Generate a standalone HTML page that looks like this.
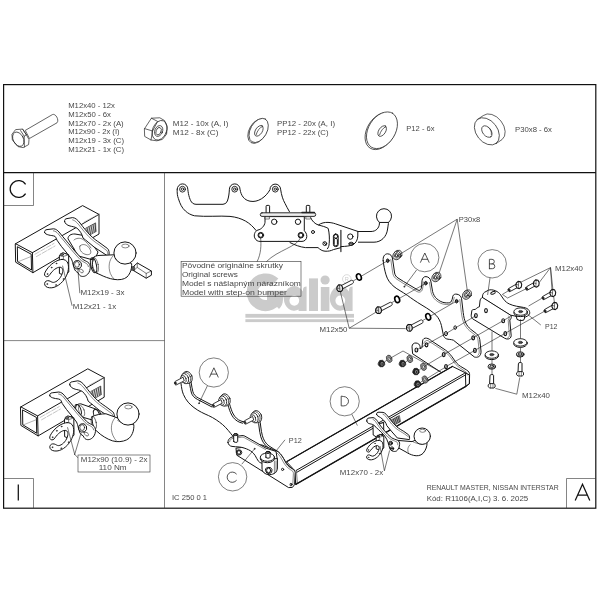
<!DOCTYPE html>
<html><head><meta charset="utf-8"><title>R1106</title>
<style>
html,body{margin:0;padding:0;background:#fff;}
svg{display:block;will-change:transform;opacity:.999}
text{font-family:"Liberation Sans",sans-serif;fill:#484848;}
.l{fill:none;stroke:#151515;stroke-width:1;stroke-linecap:round;stroke-linejoin:round}
.f{fill:#fff;stroke:#151515;stroke-width:1;stroke-linecap:round;stroke-linejoin:round}
.k{fill:#222;stroke:#222;stroke-width:.5}
.b{stroke-width:1.1}
.h{fill:none;stroke:#1c1c1c;stroke-width:.6}
.s{font-size:7px}
.hw *{stroke-width:.7;stroke:#222}
</style></head><body>
<svg width="600" height="600" viewBox="0 0 600 600">
<rect width="600" height="600" fill="#fff"/>
<!-- 00_frame.svg -->
<g style="fill:none;stroke:#111">
<rect x="3.6" y="84.6" width="592.2" height="423.6" style="stroke-width:1.2"/>
<line x1="3.6" y1="172.6" x2="595.8" y2="172.6" style="stroke-width:1.1"/>
<line x1="164.5" y1="172.6" x2="164.5" y2="508" style="stroke-width:.6;stroke:#333"/>
<line x1="3.6" y1="340.6" x2="164.5" y2="340.6" style="stroke-width:.6;stroke:#333"/>
<path d="M33.5 172.6V205.5H3.6" style="stroke-width:.6;stroke:#333"/>
<path d="M3.6 478.5H33.5V508" style="stroke-width:.6;stroke:#333"/>
<path d="M595.8 478.5H566.5V508" style="stroke-width:.6;stroke:#333"/>
</g>

<!-- 05_watermark.svg -->
<g style="fill:#cbcbcb;stroke:none">
<path d="M274.6 282.6 A13.3 13.3 0 1 0 278.2 296.2 L267 296.2" style="fill:none;stroke:#cbcbcb;stroke-width:11"/>
<path d="M267 291 H283 V299 C283 304 281 307 279 309 L272 301.4 H267Z"/>
<path fill-rule="evenodd" d="M283.8 299 A10.5 12.4 0 0 1 303 291.6 V289.6 Q303 286.6 306.6 286.6 V311 H298.6 V309.6 A10.5 12.4 0 0 1 283.8 299Z M289.4 300.6 A4.9 5.1 0 1 0 299.2 300.6 A4.9 5.1 0 1 0 289.4 300.6Z"/>
<rect x="309" y="278.4" width="9" height="32.6"/>
<rect x="320.8" y="287" width="8.6" height="24"/>
<circle cx="325.1" cy="280" r="4.6"/>
<path fill-rule="evenodd" d="M329.8 299 A10.5 12.4 0 0 1 349 291.6 V289.6 Q349 286.6 352.6 286.6 V311 H344.6 V309.6 A10.5 12.4 0 0 1 329.8 299Z M335.4 300.6 A4.9 5.1 0 1 0 345.2 300.6 A4.9 5.1 0 1 0 335.4 300.6Z"/>
<rect x="245.4" y="313.9" width="108.6" height="3.8"/>
<rect x="245.4" y="319.2" width="108.6" height="2.9"/>
<circle cx="346.8" cy="279" r="4.3" style="fill:none;stroke:#cbcbcb;stroke-width:.7"/>
<text x="344.8" y="281.4" font-size="5.6" style="fill:#cbcbcb">R</text>
</g>

<!-- 10_hardware.svg -->
<g class="l hw">
<!-- bolt -->
<path class="f" d="M25.6 130.2 L52.4 114.6 C55.5 113 59.5 120 57 122.8 L29.8 138.3Z"/>
<path class="f" d="M12.2 134 L15.6 129.6 L22.6 129.1 L26.4 134.8 L29 139.6 L28.6 144.6 L23.2 147.6 L18 146.6 L12.6 140.2Z"/>
<path d="M22.6 129.1 L26.4 134.8 M26.4 134.8 L24.2 136.2 L24.4 147 M24.2 136.2 L20.6 130.6"/>
<ellipse cx="18.3" cy="139.2" rx="5.1" ry="7.6" transform="rotate(-27 18.3 139.2)"/>
<!-- nut -->
<path class="f" d="M144.6 128.6 L151.4 118.2 L159.8 117.8 L164.6 120.6 L167.2 127 L166.6 134.2 L162.4 139.4 L156.8 140.8 L151 140 L145 136.6Z"/>
<path d="M144.6 128.6 L152.6 131 L151 140 M152.6 131 L157.6 121.4 L151.4 118.2"/>
<ellipse cx="159.6" cy="130.3" rx="7" ry="10.2" transform="rotate(22 159.6 130.3)"/>
<ellipse cx="158.7" cy="131" rx="3.9" ry="5.6" transform="rotate(22 158.7 131)"/>
<ellipse cx="158.6" cy="131.2" rx="2.5" ry="3.9" transform="rotate(22 158.6 131.2)"/>
<!-- PP12 washer -->
<ellipse class="f" cx="257.7" cy="131" rx="13.4" ry="8.4" transform="rotate(-60 257.7 131)"/>
<ellipse class="f" cx="258.7" cy="130.4" rx="13.2" ry="8.2" transform="rotate(-60 258.7 130.4)"/>
<ellipse cx="258.9" cy="130.8" rx="6" ry="3.4" transform="rotate(-57 258.9 130.8)"/>
<path d="M256.2 134.6 C257 131 260 127.2 262.4 126.4"/>
<!-- P12 washer -->
<ellipse class="f" cx="380.8" cy="131" rx="20.2" ry="13.6" transform="rotate(-58 380.8 131)"/>
<ellipse class="f" cx="382" cy="130.2" rx="20" ry="13.4" transform="rotate(-58 382 130.2)"/>
<ellipse cx="382.2" cy="131" rx="6" ry="3.4" transform="rotate(-57 382.2 131)"/>
<path d="M379.6 134.8 C380.4 131.4 383.2 127.6 385.6 126.8"/>
<!-- P30x8 -->
<path class="f" d="M477.5 119.4 L483.2 115.6 A15.2 10.6 52 0 1 502 139.6 L496.3 143.4Z" style="stroke-width:.7"/>
<ellipse class="f" cx="486.9" cy="131.4" rx="15.2" ry="10.6" transform="rotate(52 486.9 131.4)" style="stroke-width:.7"/>
<ellipse cx="486.9" cy="131.6" rx="6.6" ry="4.2" transform="rotate(52 486.9 131.6)" style="stroke-width:.7"/>
<path d="M488.4 127.4 C490.4 129 491.8 131.8 491.4 134.4" style="stroke-width:.6"/>
</g>

<!-- 20_sideview.svg -->
<g class="l">
<!-- upper bracket outline -->
<path d="M177.2 189.2 A5.3 5.3 0 0 1 187.8 189.2 C188.4 195 190 201 192.4 203 Q193.8 204.3 196 204.3 H223 Q226 204.3 227.4 201 C228.8 197 229.2 193 229.4 189.2 A5.3 5.3 0 0 1 240 189.2 C241 195.5 244 200 250 201.2 C258 202.8 266 197 270 189.6 A5.3 5.3 0 0 1 280.6 189.2 C281.4 195 283 200 285 203.4 Q287 207.5 289.4 211.6"/>
<path d="M177.2 189.2 C177 193 177.4 196 178.4 198.6 C180 204 182 208 185.4 211 C188 213.4 191 215 194.6 215.8 C206 217 220 215.6 230 216.4 C236 217 241 218.6 245.4 221 C250 223.6 253.4 227 256 230.4"/>
<g style="stroke-width:.9">
<circle cx="182.5" cy="189.2" r="2.9"/><circle cx="182.5" cy="189.2" r="1.2"/>
<circle cx="234.7" cy="189.2" r="2.9"/><circle cx="234.7" cy="189.2" r="1.2"/>
<circle cx="275.3" cy="189.2" r="2.9"/><circle cx="275.3" cy="189.2" r="1.2"/>
</g>
<!-- studs -->
<path class="f" d="M266.1 213 V206.2 Q266.1 205.4 266.9 205.4 H268.8 Q269.6 205.4 269.6 206.2 V213Z"/>
<path class="f" d="M306.3 213 V206.2 Q306.3 205.4 307.1 205.4 H309 Q309.8 205.4 309.8 206.2 V213Z"/>
<!-- mounting plate body -->
<path class="f" d="M265 217 V222.4 C264.6 226 261 229.6 258 230 C254.4 231 253.6 236 254.8 238 C256 240.6 258 241.4 260 241.4 H302 C304.6 241.4 306.8 239.4 306.8 236.4 C306.8 233.6 305.4 232 304.3 230.8 V217Z"/>
<circle cx="274.2" cy="221.8" r="2.7"/><circle cx="298" cy="221.8" r="2.7"/>
<circle cx="260.8" cy="235.2" r="2.8"/><circle cx="260.8" cy="235.2" r="2.1"/>
<circle cx="300.9" cy="235.2" r="2.8"/><circle cx="300.9" cy="235.2" r="2.1"/>
<!-- right housing -->
<path d="M310.6 217.6 C312 221 315 224 318.4 225 C322 226 325.6 226.8 328.2 228.4 C329.4 233 329.6 239 329.2 243.4 C329 246 328.4 247.6 327.4 248.8"/>
<path d="M318.6 224.8 C321 223 325 222.2 328 222.4 C331 222.6 333 223 335.4 223.8 L358.4 231.6"/>
<path d="M290 242.6 C295 245 300 247 305.4 247.6 H318 C320 249.4 322 251 325 251.2 C328.4 251.4 331 250.8 333.4 249.6 L340.4 247.8"/>
<circle cx="313" cy="232" r="1.5"/><circle cx="324.8" cy="243.6" r="1.9"/><path d="M323.6 242.2 L326 245"/>
<rect x="333.4" y="234" width="4.8" height="12.6" rx="2.2"/><rect x="334.2" y="238.4" width="3.2" height="7.4" rx="1.4"/>
<circle cx="335.8" cy="236.4" r="1.9"/>
<line x1="340.9" y1="230.4" x2="340.9" y2="251.6" style="stroke-width:1.1"/>
<!-- bar -->
<rect x="260.3" y="212.8" width="55.4" height="3.6" rx="1.7" style="fill:#eee;stroke-width:.9"/>
<path d="M302 212.5 H314.4" style="stroke-width:1.5;stroke:#222"/>
<path class="f" d="M265.4 216.8 H269.4 V219 H265.4Z M306.2 216.8 H310.6 V219 H306.2Z" style="stroke-width:.55"/>
<!-- towbar neck & ball -->
<path d="M340.9 246.6 C346 246.4 350 246 353 244.6 C356 243 357.6 240 357.8 236 V231.6"/>
<circle cx="350.3" cy="236.6" r="2.7"/><ellipse cx="351.2" cy="243.8" rx="2.3" ry="1.6"/><path d="M349 243.8 H353.4"/>
<path d="M358.4 231.5 H371 C376 231.5 379 228 379.4 224 V222.2 M358.4 242.2 H374 C381 242.2 386.6 237 387.6 229 C388 226 388.4 224 388.6 222.2"/>
<path class="f" d="M379.2 222.2 A7.6 7.6 0 1 1 388.8 222.2 Z"/>
<!-- leader curves -->
<path class="h" d="M260.6 238 C261.4 245 261 254 257.2 261.4 M300.4 238 C297 247 278 250 266.6 261.4"/>
</g>

<!-- 30_beam.svg -->
<g class="l">
<!-- right end plate (behind beam) -->
<path class="f" d="M412.6 353.4 L412 346.8 C412 344 414 342.8 416 343 C418.4 343.2 419.8 344.6 420 346.4 L420.4 349 L422 347.4 L422.6 341 C422.8 338.8 424.6 337.8 426.6 338.2 C428.6 338.6 429.8 339.4 431.4 340.8 L445.4 350 C449 352.6 451.6 356 453.6 359 C455.6 362 457.6 364.6 460.6 366.4 L466.6 370 C468.6 371.2 469.6 372.6 469.6 374.6 L469.4 383.6 L465.4 386.6 L440 371.6 Z"/>
<path d="M423.8 343.4 C424.4 341.2 426.2 340 428 340.6 L444.6 351.4 C448 354 450.4 357 452.4 360 C454.6 363.2 456.6 365.8 459.8 367.8 L465.2 371.4 C466.6 372.4 467.2 373.4 467.2 375" style="stroke-width:.5"/>
<g style="stroke-width:1.15"><ellipse cx="416.4" cy="350" rx="1.4" ry="2"/><ellipse cx="426.5" cy="344.8" rx="1.4" ry="2"/>
<ellipse cx="443.7" cy="354.6" rx="1.4" ry="2"/><ellipse cx="446" cy="366.6" rx="1.4" ry="2"/></g>
<!-- beam -->
<path class="f" d="M286.9 461.6 L452.4 366.4 L465.4 372.8 L465.8 386.4 L295.8 484.4 L294.6 470.8 Z"/>
<path d="M286.9 461.6 L452.4 366.4" style="stroke-width:1.2"/>
<path d="M296.2 470.4 L464.4 373.4 M297 472.2 L464.6 375.4"/>
<path d="M294.6 470.8 L295.8 484.4 M296.4 470.6 L297.4 483.6" style="stroke-width:.55"/>
<path d="M295.8 484.4 L465.8 386.4" style="stroke-width:1.25"/>
<path d="M465.4 372.8 L469.4 375 L469.4 383.8 L465.8 386.4"/>
</g>

<!-- 32_leftend.svg -->
<defs>
<g id="lugstud">
<!-- origin = lug centre -->
<ellipse class="f" cx="1.6" cy="-.6" rx="4.6" ry="6.2" transform="rotate(-20 1.6 -.6)" style="stroke-width:.8"/>
<ellipse class="f" cx=".4" cy="0" rx="4.2" ry="5.8" transform="rotate(-20 .4 0)" style="stroke-width:.6"/>
<ellipse class="f" cx="-1" cy=".6" rx="3.6" ry="5.2" transform="rotate(-20 -1 .6)" style="stroke-width:.8"/>
<ellipse class="f" cx="-2.4" cy="1.2" rx="2.6" ry="3.8" transform="rotate(-20 -2.4 1.2)" style="stroke-width:.7"/>
<path class="f" d="M-3.2 -.6 L-10.6 3.4 C-12.4 4.4 -11.2 7.6 -9.4 6.8 L-2 3Z" style="stroke-width:.85"/>
<ellipse class="k" cx="-10.4" cy="5.2" rx=".8" ry="1.4" transform="rotate(-25 -10.4 5.2)"/>
</g>
</defs>
<g class="l">
<!-- lower-left bracket A plate -->
<path class="f" d="M181 383.4 C181.6 388 182 391 183.4 394.4 C186 400.6 190 404.6 194 407.6 C199 411.4 204 413.6 208.6 415.6 C214 418 219 421.6 222.6 424.6 C226.6 428 230 432.6 233 436.6 L262.4 436 L260 425 C259.6 422 259.4 419.6 259 417.6 L254 410 L246 420.6 L243.2 421.8 C239.4 421.2 236.4 419 234.6 416.6 C232 413 231 409.6 230 406.4 C229.2 403.6 228.4 401.4 227.4 399.4 L222 393.4 L214 404.6 L213 405.8 L198.4 398.2 C195.4 396.4 193.6 394.6 193 391.6 C191.8 386.6 191.2 381.6 190 376.4 L183 372 Z" style="stroke:none"/>
<path d="M181 383.4 C181.6 388 182 391 183.4 394.4 C186 400.6 190 404.6 194 407.6 C199 411.4 204 413.6 208.6 415.6 C214 418 219 421.6 222.6 424.6 C226.6 428 230 432.6 233.4 436.8"/>
<path d="M190 376 C191.2 381.6 191.6 386.6 192.8 391.4 C193.6 394.6 195.4 396.4 198.4 398 L213.4 405.8 M188.4 377 C189.6 382.6 190 387 191.2 392 C192 395.4 194 397.6 197.4 399.4 L212 407"/>
<path d="M227.6 399.6 C229 402 229.6 404 230.4 406.8 C231.4 410 232.4 413.2 234.8 416.4 C236.8 419 239.6 421 243.6 421.8 M226 400.6 C227.4 403 228 405 228.8 407.8 C229.8 411 231 414.4 233.4 417.6 C235.6 420.4 238.6 422.4 242.6 423.2"/>
<path d="M259.4 417.8 C260.2 421 260.4 424 260.8 427 C261.2 430 261.6 433 262.4 435.8 C263.6 440 265.6 443.4 269 446 C272 448.2 275.4 449.6 278 451.6 C281 454 283 457.4 285 461 C287 464.6 290 467.6 294.6 470.4 M257.8 418.8 C258.6 422 258.8 425 259.2 428 C259.6 431 260 434 260.8 436.8 C262 441 264.4 444.8 267.8 447.4"/>
<circle class="k" cx="199" cy="403.3" r=".55"/>
<use href="#lugstud" x="185.9" y="378"/>
<use href="#lugstud" x="223.9" y="400.4"/>
<use href="#lugstud" x="255.4" y="417.2"/>
<!-- beam left end plate -->
<path class="f" d="M236 448.6 L236.8 455.2 L288.6 487.6 L292.4 487.4 L294.6 484.6 L295.2 472.6 C295 470.4 293.6 469.6 292 468.6 C288.4 466.6 286.6 464.4 285 461.2 C283 457.4 281 454 278 451.6 L262 445 Z"/>
<path d="M276.6 452.6 C279.4 454.8 281.2 458 283.2 461.8 C285 465 287 467.6 290.6 469.8 C292.4 470.8 293.4 471.4 293.4 473.4 L292.8 484.6" style="stroke-width:.5"/>
<circle cx="282.6" cy="469.4" r="1.1"/><ellipse cx="291" cy="484.6" rx=".9" ry="1.4"/>
<!-- bracket C plate -->
<path class="f" d="M228 442.6 C227.6 439.6 230 437.4 233 436.8 L242 435.6 C243.6 435.4 244.6 436 246 436.8 L266 448.2 L276 451.4 L277.4 460 L264.6 463.8 C261.6 463.4 259.6 462.6 258.6 461.4 C257 459.6 256.4 457.4 255.2 455.6 C253.6 453.2 251.4 451 248.6 449.8 C245.6 448.4 242.6 447.4 239.4 447 C236.6 446.8 234.4 446.8 232 446.4 C229.6 446 228.4 444.6 228 442.6Z"/>
<path d="M229.6 441.6 C229.6 440 231 438.8 233 438.4 L241.6 437.2 C243.2 437 244.4 437.6 245.6 438.4 L265.6 449.6" style="stroke-width:.5"/>
<circle class="k" cx="254.6" cy="448.8" r=".55"/>
<!-- post -->
<path class="f" d="M233.7 441.4 V434.6 A2 1 0 0 1 237.7 434.6 V441.4 A2 1 0 0 1 233.7 441.4Z"/>
<ellipse cx="235.7" cy="434.6" rx="2" ry="1" style="fill:#666"/>
<!-- bushing under washer -->
<path class="f" d="M262 460 V468 C262 472 265 474.6 269.6 474.6 C274 474.6 277.4 472 277.4 468 V459Z"/>
<path d="M274.4 461 V473 M276 461 V472" style="stroke-width:.5"/>
<!-- washer P12 -->
<ellipse class="f" cx="267.4" cy="458.6" rx="7.1" ry="4.1"/>
<ellipse class="f" cx="267.4" cy="457.2" rx="7.1" ry="4.1"/>
<path class="f" d="M265.9 457.2 V452.4 A2.1 1 0 0 1 270.1 452.4 V457.2 A2.1 1 0 0 1 265.9 457.2Z"/>
<ellipse cx="268" cy="452.4" rx="2.1" ry="1" style="fill:#777"/>
<!-- bolt heads -->
<path class="f" d="M266 468.4 L267.6 467.4 L270.6 467.6 L272 469.6 L271.6 472.4 L269.4 473.6 L266.8 473 L265.6 470.8Z"/>
<ellipse cx="268.6" cy="470.4" rx="2" ry="2.4"/>
<path class="f" d="M236.8 450.6 L238.6 449.8 L241 450.4 L241.8 452.6 L240.8 454.6 L238.4 455 L236.6 453.4Z"/>
<ellipse cx="239" cy="452.4" rx="1.6" ry="1.9"/>
</g>

<!-- 40_coupling.svg -->
<g class="l">
<!-- ribbed block -->
<path d="M390.6 420.4 L399.4 415.4 L400.6 421.6 L393 425.8Z" style="fill:#aaa;stroke-width:.5"/>
<path d="M391.6 420 L393.4 425 M393.2 419 L395 424.2 M394.8 418.2 L396.6 423.4 M396.4 417.2 L398.2 422.6 M398 416.4 L399.6 421.8" style="stroke:#111;stroke-width:.7"/>
<!-- mount plate on beam -->
<path class="f" d="M373 425.2 L373.2 435 L376.4 437 L383.8 433 L383.6 423Z"/>
<!-- arm 2 (rear) -->
<path class="f" d="M376.6 414.6 C376.2 412.8 377.4 412.2 379 412.2 L383 412.4 C385.4 412.8 387.2 415.4 388.8 417.6 C391 420.6 393.4 423.6 396.4 426.4 C399 428.8 401.6 430 403.8 431.4 L408.6 434.8 C409.6 436 409.8 438 409.4 439.6 L397.4 438 C394 434 390 430 386.8 425.6 C386 422.4 384 420.2 380.6 417.6 C378.6 416.4 377 415.8 376.6 414.6Z"/>
<path d="M383 414.2 C385 415 386.6 417.4 388 419.4 C390.4 422.8 393 425.8 396 428.4 C399 430.8 402 432.2 404.6 434 L408.4 436.8" style="stroke-width:.5"/>
<!-- neck -->
<path class="f" d="M397.6 440.4 L412 441.6 C413.6 441 414.6 440.6 415.6 440 L427 442.6 C427.2 446 426 450 423 453.4 C420.6 455.8 417 456.2 413.6 455.4 C410.6 454.6 408 453.4 406 452 L399.4 448.4Z"/>
<path d="M410.2 444.6 C407.8 446.6 407 450 408.6 453.4" style="stroke-width:.5"/>
<path d="M413 441.8 C415 443 419 444 423 444.2" style="stroke-width:.5"/>
<!-- ball -->
<circle class="f" cx="422.2" cy="436.2" r="8.2"/>
<ellipse cx="422.6" cy="430.8" rx="3" ry="1.5" style="stroke-width:.5"/>
<!-- arm 1 (front) -->
<path class="f" d="M366.8 421 C366.4 419 367.6 418.2 369 418 L373 417.6 C375.2 418 376.6 420 377.6 421.4 C379.6 424.4 381.6 427.6 384 430.2 C386.4 433 388.8 435.6 391.4 437.6 C393.4 439 395.6 439.4 397.4 440.2 C399.2 441.2 399.8 442.6 399.6 444.4 C399.4 446.6 398.6 448.8 397.4 450.2 C396.4 451.4 395 451.6 393.6 451.4 C391.6 451 390.4 450 389.8 448.6 C389 446.6 388.8 444.6 388 442.4 C387.2 440.2 386.4 438.2 385 436.4 C383 433.6 380.6 431.6 378.6 429.8 C376.8 428 375.4 426.4 373.6 425 C372 424 370.4 424 369.2 423.6 C367.8 423.2 367 422.4 366.8 421Z"/>
<path d="M373 419.4 C374.6 420 375.6 421.6 376.4 422.8 C378.4 425.8 380.4 428.8 382.8 431.6 C385.2 434.4 387.6 437 390.4 439 C392.4 440.4 394.4 440.8 396.2 441.6 C397.6 442.4 398 443.4 397.8 444.8" style="stroke-width:.5"/>
<circle cx="390.6" cy="443.2" r="1.9"/><circle cx="390.6" cy="443.2" r="1"/>
<circle cx="392" cy="448.6" r="1.7"/><path d="M390.6 448.6 H393.4"/>
<!-- socket bracket -->
<path class="f" d="M376.4 437.4 L379.4 434.4 L383.8 436 L383.8 448 L381 450.6 L376.6 449Z"/>
<path d="M379.6 437.2 L379.8 450 M376.4 437.4 L379.6 437.2 L383.8 436" style="stroke-width:.5"/>
<ellipse cx="378.2" cy="436.2" rx="1.3" ry="1" style="fill:#555"/>
<path class="f" d="M378.4 440.4 C374.6 440.6 370.4 443.6 367.8 447.6 C366.4 449.8 366.2 451 367.4 451.8 C368.6 452.6 369.8 451.8 370.6 450.4 C372.4 447.6 375 445.6 377.4 445.6 C379.4 445.8 379.6 448 378.6 450.6 C377.4 453.6 374.8 456 372.6 456.2 C371.4 456.2 370.8 455.4 369.6 455 C368.2 454.6 366.8 455.4 366.6 456.8 C366.4 458.4 367.8 459.6 370 459.8 C374 460.2 378.6 457 381.2 452.4 C383 449.2 383.6 445.4 382.6 442.8 C381.8 441 380.2 440.4 378.4 440.4Z"/>
<circle class="k" cx="368.4" cy="450" r=".4"/><circle class="k" cx="368.6" cy="457.4" r=".4"/><circle class="k" cx="375" cy="443.4" r=".4"/><circle class="k" cx="379.4" cy="453.6" r=".4"/>
</g>

<!-- 50_bracketA.svg -->
<defs>
<g id="spacer">
<ellipse class="f" cx="1.4" cy="-.9" rx="3.7" ry="4.4" transform="rotate(20 1.4 -.9)" style="stroke-width:.7"/>
<ellipse class="f" cx="0" cy="0" rx="3.7" ry="4.4" transform="rotate(20)" style="stroke-width:.8"/>
<ellipse cx="0" cy="0" rx="2.3" ry="2.9" transform="rotate(20)" style="stroke-width:.6"/>
<ellipse cx="-.2" cy=".1" rx="1.2" ry="1.7" transform="rotate(20)" style="stroke-width:.8"/>
</g>
<g id="wsh"><ellipse class="f" cx="0" cy="0" rx="2.3" ry="3.3" transform="rotate(-20)" style="stroke-width:1.6;stroke:#000"/></g>
<g id="wsh2"><ellipse cx="0" cy="0" rx="2.7" ry="3.8" transform="rotate(-20)" style="stroke-width:.6;stroke:#222;fill:#8c8c8c"/><ellipse cx="0" cy="0" rx="1" ry="1.6" transform="rotate(-20)" style="stroke-width:.5;stroke:#222;fill:#fff"/></g>
</defs>
<g class="l">
<!-- bracket A upper: main plate -->
<path class="f" d="M383.2 260.8 C382.6 256.6 384.6 254 387.4 253.8 C390.4 253.8 392.2 256 392.6 259 L394.6 273 C395.2 275.6 396.2 276.8 398 278 L403.4 281.4 L417.8 290 C419.6 290.8 420.6 290.4 421.2 288.6 C421.8 286.4 421.8 283.6 422 280.8 C422.4 278 424 276.4 426 276.6 C428.6 276.8 430.4 278.6 430.8 281 L432.6 291.6 C433.4 294.6 434.8 297 436.8 298.8 C439.4 301 442 302.4 445 302.8 C447.4 303 449.6 303 450.6 302.2 C452 300.8 452.4 298.6 452.8 296.2 C453.2 294.6 455 293.8 457 294.2 C459.6 294.6 461.2 296.4 461.6 298.8 L463.2 312.6 C463.8 317 464.4 320 465.8 323 C467 325.6 468.8 327.6 470.6 329.2 L476.6 333.8 C478.6 335.6 479.4 337.4 479.8 339.6 L481 351 C481.2 353.6 480.4 355.6 478.8 356.6 C477.4 357.4 475.8 357.4 474.4 357 L453.4 340.2 C451 339.2 448.4 339.6 446.4 338.8 C444.6 338 443.8 336.8 443.4 335.2 L441.4 325.4 C440.4 321.4 438.6 318 436.2 315.4 C433 312 428 308.8 422 305.2 C416 301.6 411 298 407.4 295.4 C402 291.6 397.6 289.6 394 286.6 C390 283.2 387.4 279.6 386 274.8 C384.6 270 383.6 265 383.2 260.8Z"/>
<path d="M390.8 259.6 L392.8 273.4 C393.4 276.2 394.6 277.8 396.8 279.2 L402.4 282.8 L417 291.6 C419.4 292.8 421.6 292 422.4 289.6 C423 287.4 423.2 284.6 423.4 282" style="stroke-width:.5"/>
<path d="M429.4 282.4 L431 292.2 C431.8 295.4 433.4 298 435.6 300 C438.4 302.4 441.4 304 444.8 304.4 C447.6 304.6 450.2 304.4 451.6 303.4 C453.2 302 453.8 299.6 454.2 297.4" style="stroke-width:.5"/>
<path d="M459.8 299.6 L461.4 312.8 C462 317.4 462.8 320.8 464.2 323.8 C465.6 326.6 467.4 328.8 469.4 330.6 L475.4 335.2 C477 336.6 477.8 338 478 340 L479.2 351 C479.4 353 479 354.6 477.8 355.4" style="stroke-width:.5"/>
<ellipse cx="387.7" cy="260.7" rx="1.3" ry="1.8" style="fill:#555"/>
<ellipse cx="425.8" cy="283.2" rx="1.3" ry="1.8" style="fill:#555"/>
<ellipse cx="456.6" cy="301.2" rx="1.3" ry="1.8" style="fill:#555"/>
<ellipse cx="473.2" cy="337.8" rx="1.4" ry="2" style="stroke-width:1.15"/><ellipse cx="474.9" cy="350.4" rx="1.4" ry="2" style="stroke-width:1.15"/>
<ellipse cx="446" cy="333.6" rx="1.5" ry="2.1" style="stroke-width:1"/><ellipse cx="455.2" cy="327.6" rx="1.3" ry="1.8"/>
<circle class="k" cx="404.3" cy="286.7" r=".55"/>
<use href="#spacer" x="396.8" y="255.4"/>
<use href="#spacer" x="435.8" y="277.4"/>
<use href="#spacer" x="466.4" y="295"/>
</g>

<!-- 52_bracketB.svg -->
<defs>
<g id="flatw">
<ellipse class="f" cx="0" cy="1.3" rx="6.7" ry="3.7"/>
<ellipse class="f" cx="0" cy="0" rx="6.7" ry="3.7" style="stroke-width:.9"/>
<ellipse cx="0" cy="0" rx="2.1" ry="1.2" style="fill:#444;stroke-width:.5"/>
</g>
<g id="lockw">
<ellipse class="f" cx="0" cy=".8" rx="3.7" ry="2.2"/>
<ellipse class="f" cx="0" cy="0" rx="3.7" ry="2.2" style="stroke-width:.9"/>
<ellipse cx="0" cy="0" rx="1.9" ry="1.1"/>
</g>
<g id="vbolt">
<!-- origin = top of shaft -->
<path class="f" d="M-1.8 .4 A1.8 .9 0 0 1 1.8 .4 V9.4 H-1.8Z"/>
<path class="f" d="M-3.3 9.6 L-2 8.6 H2 L3.3 9.6 V12 L2 13 H-2 L-3.3 12Z" style="stroke-width:.9"/>
<path d="M-1.2 8.6 V13 M1.2 8.6 V13" style="stroke-width:.5"/>
</g>
<g id="dbolt">
<!-- diagonal bolt: origin = head centre; shaft goes to lower-left -->
<path class="f" d="M-1.4 -1.6 L-10.6 3.6 C-12 4.6 -10.8 7.2 -9.2 6.6 L.2 1.6Z"/>
<path class="f" d="M-2 -2.6 L.4 -3.4 L2.4 -2.2 L3 .6 L2 3 L-.4 3.6 L-2.2 2.2 L-2.8 -.2Z" style="stroke-width:.95"/>
<path d="M-.6 -2.9 L-1 3.2 M.4 -3.4 L-.1 3.5" style="stroke-width:.5"/>
</g>
</defs>
<g class="l">
<!-- top plate -->
<path class="f" d="M482.4 297.4 C482.4 295 483 293.4 484.4 292.4 L488.4 290.2 C490.4 289.4 493 289.8 495.6 290.8 C497.8 291.8 499.2 293 500.2 294.2 L503.6 299.2 C505.4 301.6 507.2 303 509.4 304 C511.6 305 514 305.8 516.4 306.2 L523.4 307.4 C526 307.8 528 308.8 529 310.4 C530 312 530 313.6 529 314.8 C527.6 316.4 524.6 317.6 521 318 C518.4 318 516.6 317 515 316 L510.6 315.2 Z"/>
<!-- front plate -->
<path class="f" d="M482.4 297.4 L510.6 315.2 C511.6 316.2 511.4 317.2 511 318.4 L509.8 320 L511.2 335.8 C511 337.6 509.8 338.8 508.2 339 C506.8 339.2 505.6 338.8 504.6 338.2 L472.6 318.8 C471.6 318 471.2 316.8 471.2 315.2 L471.8 311 C472 309.8 472.8 309.4 474 309.6 L475.6 309.2 C476.6 308.4 477.6 307.2 479.4 306.8 L480 301 C480.2 299.2 481.2 298 482.4 297.4Z"/>
<path d="M508.6 316 C509.4 317 509.4 318 508.8 319 L508.2 320.4 L509.4 335.4 C509.4 336.6 508.8 337.4 507.8 337.8" style="stroke-width:.5"/>
<ellipse cx="493" cy="292.8" rx="2.4" ry="1.2" transform="rotate(-20 493 292.8)"/>
<ellipse cx="475.9" cy="315.6" rx="1.4" ry="2" style="stroke-width:1.1"/><ellipse cx="486" cy="310.6" rx="1.4" ry="2" style="stroke-width:1.1"/>
<ellipse cx="503.2" cy="320.8" rx="1.4" ry="2" style="stroke-width:1.1"/><ellipse cx="505.3" cy="333.6" rx="1.4" ry="2" style="stroke-width:1.1"/>
<!-- nut under right lug -->
<path class="f" d="M516.4 316.4 L517 319.4 L520 320.6 L523.6 320.2 L524.6 318 L524.4 316Z"/>
<use href="#flatw" x="520.6" y="311.6"/>
<!-- vertical centre lines -->
<path class="h" d="M520.5 319.6 V372 M492 331.8 V384"/>
<use href="#flatw" x="520.4" y="342.4"/>
<use href="#flatw" x="491.8" y="354.6"/>
<use href="#lockw" x="520.2" y="354"/>
<use href="#lockw" x="491.8" y="366.2"/>
<use href="#vbolt" x="520.2" y="363"/>
<use href="#vbolt" x="491.8" y="375"/>
</g>

<!-- 54_fasteners.svg -->
<defs>
<g id="nut">
<path d="M-3.1 -.6 L-1.8 -3 L1 -3.2 L3 -1.5 L3.2 1.3 L1.5 3.2 L-1.3 3.2 L-3 1.7Z" style="fill:#222;stroke:#111;stroke-width:.7"/>
<ellipse cx=".5" cy=".3" rx="1.5" ry="1.9" style="fill:#888;stroke:none"/>
<ellipse cx=".6" cy=".4" rx=".7" ry="1" style="fill:#222;stroke:none"/>
</g>
<g id="bolt50">
<!-- origin = head centre; shaft goes up-right -->
<path class="f" d="M1.2 -2.4 L11.6 -7.8 C13.4 -8.6 14.8 -5.6 13 -4.6 L2.6 .8Z" style="stroke-width:.9"/>
<path d="M-2.6 -1.4 L-1 -3.4 L1.6 -3.2 L3 -1 L3 1.6 L1.4 3.4 L-1.2 3.2 L-2.8 1.2Z" style="fill:#ddd;stroke:#111;stroke-width:1.05"/>
<path d="M-.2 -3.2 L.4 3.2 M-2.6 -.2 L-.6 .2" style="stroke:#111;stroke-width:.6"/>
</g>
<g id="bolt40">
<!-- origin = head centre (upper right); shaft goes lower-left -->
<path class="f" d="M-1.6 -1.2 L-9.4 3.2 C-11.2 4.2 -10 7.2 -8.2 6.4 L-.4 2.2Z" style="stroke-width:.9"/>
<ellipse class="k" cx="-9.4" cy="5.2" rx="1" ry="1.6" transform="rotate(-25 -9.4 5.2)"/>
<path d="M-2.2 -1.8 L-.4 -3.6 L2 -3.2 L3.2 -.8 L2.8 2 L.8 3.6 L-1.4 3 L-2.6 .8Z" class="f" style="stroke-width:1.1"/>
<path d="M.2 -3.4 L-.2 3.3 M-2.4 -.6 L0 0" style="stroke-width:.55"/>
</g>
</defs>
<g class="h">
<!-- centre / explode lines -->
<path d="M352.8 281.2 L387.2 261"/>
<path d="M391.2 303 L424.6 284"/>
<path d="M422.6 320.6 L456.4 301.2"/>
<path d="M397 256 L457.2 219.2 L438.6 274.6 M457.2 219.2 L467.4 291.4"/>
<path d="M349.2 328.2 L340.2 291.2 M349.2 328.2 L376.6 311.8 M349.2 328.2 L405.6 328.6"/>
<path d="M550.5 267.6 L520 282.6 M550.5 267.6 L539.6 282 M550.5 267.6 L552 290.4 M550.5 267.6 L554.4 302.8"/>
<path d="M508 291 L502.4 294.4 L507.6 298 L526 288.8"/>
<path d="M540.8 325 L527.4 314.2"/>
<path d="M516.8 394.2 L495.4 388.4 M516.8 394.2 L519.8 377.4"/>
<path d="M416.6 270 L404.3 286.6"/>
<path d="M490 277.8 L487.6 295"/>
<path d="M207.4 385.8 L199 403.2"/>
<path d="M241.8 464.2 L254.6 448.8"/>
<path d="M351.8 414.2 L357.4 425.6"/>
<path d="M285 439.8 L276 451"/>
<path d="M384.4 470.8 L380 446 M384.4 470.8 L389.6 450.4"/>
<path d="M416.4 350 L446 333.6 L475.9 315.6 M443.7 354.6 L510.6 316.4 M528.6 306 L541.7 298.4 M446 366.6 L544.2 311.4"/>
<path d="M384.8 361.6 L388 359.6 M405.8 361.8 L408.4 360.2 M419.4 369.6 L422 368 M420.8 382 L423.4 380.6"/>
<path d="M391.4 357.6 L403 351 L440 371.6"/>
<path d="M425.6 365.6 L443.6 354.8 M427.2 378.4 L446 366.8"/>
</g>
<g class="l">
<use href="#bolt50" x="339.6" y="288.2"/>
<use href="#bolt50" x="378.4" y="310.2"/>
<use href="#bolt50" x="409.2" y="327.8"/>
<use href="#wsh" x="358.9" y="277"/>
<use href="#wsh" x="397.2" y="299.4"/>
<use href="#wsh" x="428.2" y="316.8"/>
<use href="#bolt40" x="518.5" y="285"/>
<use href="#bolt40" x="536" y="283.5"/>
<use href="#bolt40" x="552.5" y="293"/>
<use href="#bolt40" x="554.5" y="306"/>
<use href="#nut" x="381.5" y="363.5"/>
<use href="#nut" x="402.5" y="363.5"/>
<use href="#nut" x="416" y="371.5"/>
<use href="#nut" x="417.5" y="384"/>
<use href="#wsh2" x="389.2" y="358.8"/>
<use href="#wsh2" x="409.8" y="359"/>
<use href="#wsh2" x="423.5" y="366.8"/>
<use href="#wsh2" x="425" y="379.5"/>
</g>

<!-- 60_circles.svg -->
<g style="fill:none;stroke:#2a2a2a;stroke-width:.6">
<circle cx="424.7" cy="257.6" r="14.2"/>
<circle cx="492.2" cy="263.8" r="14.2"/>
<circle cx="213.8" cy="372.5" r="14.6"/>
<circle cx="344.7" cy="401.3" r="14.6"/>
<circle cx="232.6" cy="476.8" r="14.2"/>
</g>
<g stroke-linejoin="round" style="fill:none;stroke:#333;stroke-width:.85;stroke-linecap:round">
<path d="M420.5 262.3 L424.8 253.0 L429.1 262.3 M421.9 259.3 H427.7"/>
<path d="M209.6 377.1 L213.9 367.8 L218.2 377.1 M211.0 374.1 H216.8"/>
<path d="M489.4 268.7 V259.3 H492.0 A2.3 2.3 0 0 1 492.0 263.9 H489.4 M492.0 263.9 H492.4 A2.4 2.4 0 0 1 492.4 268.7 H489.4"/>
<path d="M341.2 396.5 V405.9 H343.8 A4.7 4.7 0 0 0 343.8 396.5 Z"/>
<path d="M236.4 473.9 A5.2 5.2 0 1 0 236.4 480.5"/>
</g>
<!-- corner box letters -->
<g style="fill:none;stroke:#111;stroke-width:1.25;stroke-linecap:butt">
<path d="M25.6 184.4 A8.4 8.4 0 1 0 25.6 193.6"/>
<path d="M18.3 484.6 V500.4"/>
<path d="M575.2 500.6 L582.5 484.2 L589.8 500.6 M577.6 495.2 H587.4"/>
</g>

<!-- 70_leftpanels.svg -->
<defs>
<g id="tube">
<!-- square tube -->
<path class="f" d="M15.6 243.7 L82.6 205.6 L99 214.4 L99 234 L32.9 272.7 L16 262.4Z"/>
<path d="M15.6 243.7 L32.4 252.7 L32.9 272.7 M32.4 252.7 L99 214.4"/>
<path d="M17.7 246.9 L31.2 254.2 L31.5 270 L17.9 261.8Z"/>
<path d="M17.9 261.8 L31.3 256.4" style="stroke-width:.45;stroke:#555"/>
<path d="M35 254.2 L54 243.4 M36.4 256.6 L55 246" style="stroke:#aaa;stroke-width:.7;stroke-dasharray:5 1.6"/>
<path d="M84 222 L98 214.6" style="stroke:#999;stroke-width:.5"/>
<!-- ribbed block -->
<path d="M85.8 228.2 L95.6 222.8 L96 231.6 L88.4 235.8Z" style="fill:#ccc;stroke-width:.5"/>
<path d="M87 227.8 L88.8 235 M89 226.6 L90.6 234 M91 225.6 L92.4 233 M93 224.4 L94.2 232 M95 223.4 L95.8 231.4" style="stroke:#222;stroke-width:.75"/>
</g>
<g id="arm2">
<path class="f" d="M64.6 221.6 C64.2 219.6 65.4 218.8 67 218.6 L72.6 217.6 C75.6 217.8 78 220.4 80 223 C83.4 227.6 86.6 231.4 90 235 C93.6 238.6 97 241 100 243 L107.6 248.6 C109 250 109.4 252.4 109 254.6 L108 256.2 L94 247 C90 243.6 86 240.4 83 238 C82 234 80 230.6 77 228.2 C74.6 226.6 72 226.6 70 226 C67 225.2 65 223.6 64.6 221.6Z"/>
<path d="M72.6 219.8 C75 220.4 77 222.6 78.8 224.8 C82 229.2 85.4 233 88.8 236.6 C92.4 240.2 95.8 242.6 98.8 244.6 L106.6 250.4 C107.6 251.4 107.8 252.8 107.6 254.2" style="stroke-width:.5"/>
</g>
<g id="arm1">
<path class="f" d="M44.6 232.6 C44.2 230.6 45.4 229.8 47 229.6 L53.6 228.8 C56 229 57.6 230.4 59 232 L62.5 236.3 L68.8 243.8 L75 251.3 L81.3 258.1 C83 259.8 85 260.6 86.3 261.3 C88.6 262.4 89.8 263.8 90.2 266 C90.6 269 89.6 272.4 87.5 274.4 C86.2 275.6 84.8 276.3 83.6 276.4 C82 276.6 80.6 276.2 79.8 275.4 C78.8 274.6 78.4 273.6 78 272.6 C76.2 271.8 75 270.6 74.4 268.8 L73.1 264.4 C72.6 262 72 260.2 71.3 258.8 L67.5 253.8 L61.3 246.3 L57 240.2 C56.2 238.4 55.8 237 55 236.4 C53 235.4 50.6 235.6 48.8 235 C46.6 234.4 45 233.8 44.6 232.6Z"/>
<path d="M53.4 230.8 C55.6 231.2 56.8 232.2 58 233.6 L61.4 237.8 L67.6 245.2 L73.8 252.6 L80 259.4 C81.8 261.2 83.8 262 85.2 262.8 C87 263.8 88.2 264.8 88.4 266.6" style="stroke-width:.55"/>
<!-- bolt -->
<path class="f" d="M73.6 263 L75.4 260.8 L78.8 260.6 L81.2 262.8 L81.4 266.2 L79.4 268.6 L76.2 268.8 L73.8 266.6Z" style="stroke-width:1"/>
<ellipse cx="77" cy="264.4" rx="2.4" ry="2.9" style="stroke-width:.7"/>
<path d="M78.8 269 C79 270.8 80 272.4 81.8 272.8 C83.4 273 83.8 271.4 82.8 270.2 C81.8 269.2 80.2 268.8 78.8 269Z" style="stroke-width:.6"/>
</g>
<g id="socket">
<path class="f" d="M59.6 255.6 L62.6 252.6 L68.6 254.8 L68.8 272 L65 275.6 L59.8 273.6Z"/>
<path d="M63.4 256.4 L63.8 275 M59.6 255.6 L63.4 256.4 L68.6 254.8" style="stroke-width:.55"/>
<ellipse cx="61.8" cy="254.6" rx="1.8" ry="1.3" style="fill:#666;stroke-width:.5"/>
<path class="f" d="M62 259.4 C56.6 259.8 50.4 264 46.4 270 C44.4 273 43.8 275 45.4 276.2 C47 277.4 48.8 276.4 50 274.4 C52.6 270.4 56.6 267.2 60 267.2 C62.8 267.4 63.4 270.4 62 274.2 C60.4 278.6 56.6 282.2 53.4 282.4 C51.6 282.4 50.8 281.2 49 280.8 C47 280.2 44.8 281.4 44.6 283.4 C44.4 285.8 46.4 287.6 49.6 287.8 C55.4 288.4 62 283.8 65.8 277 C68.4 272.2 69.2 266.8 67.8 263 C66.6 260.4 64.6 259.4 62 259.4Z"/>
<circle class="k" cx="47.4" cy="274" r=".5"/><circle class="k" cx="47.2" cy="284" r=".5"/><circle class="k" cx="56.4" cy="263.4" r=".5"/><circle class="k" cx="63.4" cy="279" r=".5"/><circle class="k" cx="56" cy="285" r=".5"/><circle class="k" cx="51.6" cy="267.6" r=".5"/>
</g>
</defs>
<g class="l">
<!-- ===== panel C ===== -->
<use href="#tube"/>
<!-- key -->
<path class="f" d="M134 266 L137.4 263 L151.4 271 L151.4 275.2 L146.2 278.2 L133.6 270.6Z"/>
<path d="M137.4 263 L137.2 267.4 L146.2 273.4 L151.4 271 M146.2 273.4 V278.2 M133.6 270.6 L137.2 267.4" style="stroke-width:.55"/>
<path d="M131.6 266.6 H134.6 V270.4 H131.6Z" style="fill:#555;stroke-width:.5"/>
<!-- coupling body between arms -->
<path class="f" d="M68 238.4 C68 235.6 71 233.8 75 234 L82 235.2 C86 236.6 89 240 92 244 L98 252 L94.6 260.4 L78.6 256 Z"/>
<path d="M74 240 C76 238 80 237.6 83 239.4 C86 241.6 89 245 91 248 M80 246 C81.6 244 85 244 87.6 246.2 C90 248.4 91.6 251.6 90.4 253.6 C88.4 255.6 84 254.6 81.6 252 C79.8 250 79.2 247.6 80 246Z" style="stroke-width:.55"/>
<circle cx="86.4" cy="239.2" r=".7" style="stroke-width:.5"/>
<use href="#arm2"/>
<!-- neck C -->
<path class="f" d="M92.4 258.4 C94 256.2 97 255.4 100 255.4 L114 254.8 L131.6 263.6 C132 268 130.6 273.4 127 277 C124 279.6 119 280.2 114 279.4 C109 278.6 104 276.6 100 274.6 L95.4 272.6 C92 270 91.4 263.6 93.4 259.6Z"/>
<ellipse cx="93.6" cy="265.2" rx="2.8" ry="7.6" transform="rotate(-12 93.6 265.2)"/>
<ellipse cx="95.4" cy="265" rx="2.8" ry="7.8" transform="rotate(-12 95.4 265)" style="stroke-width:.5"/>
<path d="M113 256 C109 260 108 267 110.4 273.6 C111.4 275.8 112.6 277.6 114 279" style="stroke-width:.5"/>
<path d="M115 258.6 C118 261 124 262.6 130.4 262.8" style="stroke-width:.5"/>
<circle class="f" cx="125" cy="253" r="11.1"/>
<ellipse cx="125.4" cy="246" rx="3.7" ry="1.9" style="stroke-width:.5"/>
<use href="#arm1"/>
<use href="#socket"/>
<path class="h" d="M62.6 266 L72 305.4 M77.8 268.6 L79.8 292.8"/>
<!-- ===== panel I ===== -->
<g transform="translate(5.2 163.2)">
<use href="#tube"/>
<!-- spacer cylinder between arms -->
<path class="f" d="M70.6 246.4 C69.6 243 72 240.4 75.6 240.6 L91 246 C95 247.6 96.6 251.6 95 255 L92.6 258.4 L74 253Z"/>
<ellipse cx="73" cy="246.6" rx="2.6" ry="5.6" transform="rotate(-20 73 246.6)"/>
<ellipse cx="76.4" cy="247.6" rx="2.6" ry="5.8" transform="rotate(-20 76.4 247.6)" style="stroke-width:.5"/>
<ellipse cx="91.6" cy="252" rx="2.8" ry="6" transform="rotate(-20 91.6 252)"/>
<use href="#arm2"/>
<!-- neck I -->
<path class="f" d="M87 253.4 C90 251.6 96 250.6 100.8 250.6 L113 255 L128.6 261.4 C129 266 127.6 271.4 124 275 C121 277.6 116 278.8 111 278.4 C106 278 100 274.6 95.6 271.4 L89.6 266.2 C87.6 263 86.4 257 87 253.4Z"/>
<ellipse cx="88.6" cy="259.6" rx="2.4" ry="6.6" transform="rotate(-12 88.6 259.6)" style="stroke-width:.6"/>
<path d="M110 254.4 C106 258.6 105 265.6 107.6 272 C108.6 274.4 110 276.4 111.4 278" style="stroke-width:.5"/>
<path d="M112.4 257.2 C115.4 259.6 121.4 261.2 127.6 261.4" style="stroke-width:.5"/>
<circle class="f" cx="122.8" cy="250.8" r="11.1"/>
<ellipse cx="123.2" cy="243.8" rx="3.7" ry="1.9" style="stroke-width:.5"/>
<use href="#arm1"/>
<use href="#socket"/>
</g>
<path class="h" d="M74.7 454.4 L67.6 427.6 M74.7 454.4 L81 433.2 M74.7 454.4 L78 457.8"/>
</g>

<!-- 90_text.svg -->
<g class="s">
<text x="68.2" y="107.8" textLength="46.8" lengthAdjust="spacingAndGlyphs">M12x40 - 12x</text>
<text x="68.2" y="116.6" textLength="42.7" lengthAdjust="spacingAndGlyphs">M12x50 - 6x</text>
<text x="68.2" y="125.5" textLength="55.5" lengthAdjust="spacingAndGlyphs">M12x70 - 2x (A)</text>
<text x="68.2" y="134.4" textLength="51.4" lengthAdjust="spacingAndGlyphs">M12x90 - 2x (I)</text>
<text x="68.2" y="143.3" textLength="55.8" lengthAdjust="spacingAndGlyphs">M12x19 - 3x (C)</text>
<text x="68.2" y="152.1" textLength="55.8" lengthAdjust="spacingAndGlyphs">M12x21 - 1x (C)</text>
<text x="172.8" y="126.2" textLength="55.7" lengthAdjust="spacingAndGlyphs">M12 - 10x (A, I)</text>
<text x="172.8" y="135.4" textLength="45.7" lengthAdjust="spacingAndGlyphs">M12 - 8x (C)</text>
<text x="277" y="126.2" textLength="58" lengthAdjust="spacingAndGlyphs">PP12 - 20x (A, I)</text>
<text x="277" y="135.4" textLength="51.5" lengthAdjust="spacingAndGlyphs">PP12 - 22x (C)</text>
<text x="406.3" y="131.2" textLength="28.3" lengthAdjust="spacingAndGlyphs">P12 - 6x</text>
<text x="515" y="131.6" textLength="37" lengthAdjust="spacingAndGlyphs">P30x8 - 6x</text>
<text x="80.4" y="295.4" textLength="44" lengthAdjust="spacingAndGlyphs">M12x19 - 3x</text>
<text x="72.7" y="308.5" textLength="43.4" lengthAdjust="spacingAndGlyphs">M12x21 - 1x</text>
<text x="458.7" y="222.2" textLength="21.5" lengthAdjust="spacingAndGlyphs">P30x8</text>
<text x="555" y="270.8" textLength="28" lengthAdjust="spacingAndGlyphs">M12x40</text>
<text x="545" y="328.8" textLength="12.5" lengthAdjust="spacingAndGlyphs">P12</text>
<text x="522" y="397.8" textLength="28" lengthAdjust="spacingAndGlyphs">M12x40</text>
<text x="319.5" y="331.7" textLength="28" lengthAdjust="spacingAndGlyphs">M12x50</text>
<text x="288.8" y="443" textLength="13" lengthAdjust="spacingAndGlyphs">P12</text>
<text x="339.8" y="474.7" textLength="43.4" lengthAdjust="spacingAndGlyphs">M12x70 - 2x</text>
<text x="172" y="499.8" font-size="7.5" textLength="35" lengthAdjust="spacingAndGlyphs">IC 250 0 1</text>
<text x="426.7" y="490" font-size="7.3" textLength="132" lengthAdjust="spacingAndGlyphs">RENAULT MASTER, NISSAN INTERSTAR</text>
<text x="426.7" y="501" font-size="7.3" textLength="101.5" lengthAdjust="spacingAndGlyphs">Kód: R1106(A,I,C)  3. 6. 2025</text>
</g>

<!-- 91_textbox.svg -->
<rect x="181.1" y="261.3" width="119.9" height="34.9" style="fill:none;stroke:#333;stroke-width:.6"/>
<g font-size="7.5">
<text x="181.9" y="268.1" textLength="101" lengthAdjust="spacingAndGlyphs">Pôvodné originálne skrutky</text>
<text x="181.9" y="277" textLength="56" lengthAdjust="spacingAndGlyphs">Original screws</text>
<text x="181.9" y="285.9" textLength="119" lengthAdjust="spacingAndGlyphs">Model s nášlapným nárazníkom</text>
<text x="181.9" y="294.5" textLength="105" lengthAdjust="spacingAndGlyphs">Model with step-on bumper</text>
</g>
<rect x="78" y="455" width="72" height="17" style="fill:#fff;stroke:#333;stroke-width:.6"/>
<g class="s">
<text x="80.8" y="461.8" textLength="66.6" lengthAdjust="spacingAndGlyphs">M12x90 (10.9) - 2x</text>
<text x="98.7" y="470.3" textLength="28" lengthAdjust="spacingAndGlyphs">110 Nm</text>
</g>

</svg>
</body></html>
